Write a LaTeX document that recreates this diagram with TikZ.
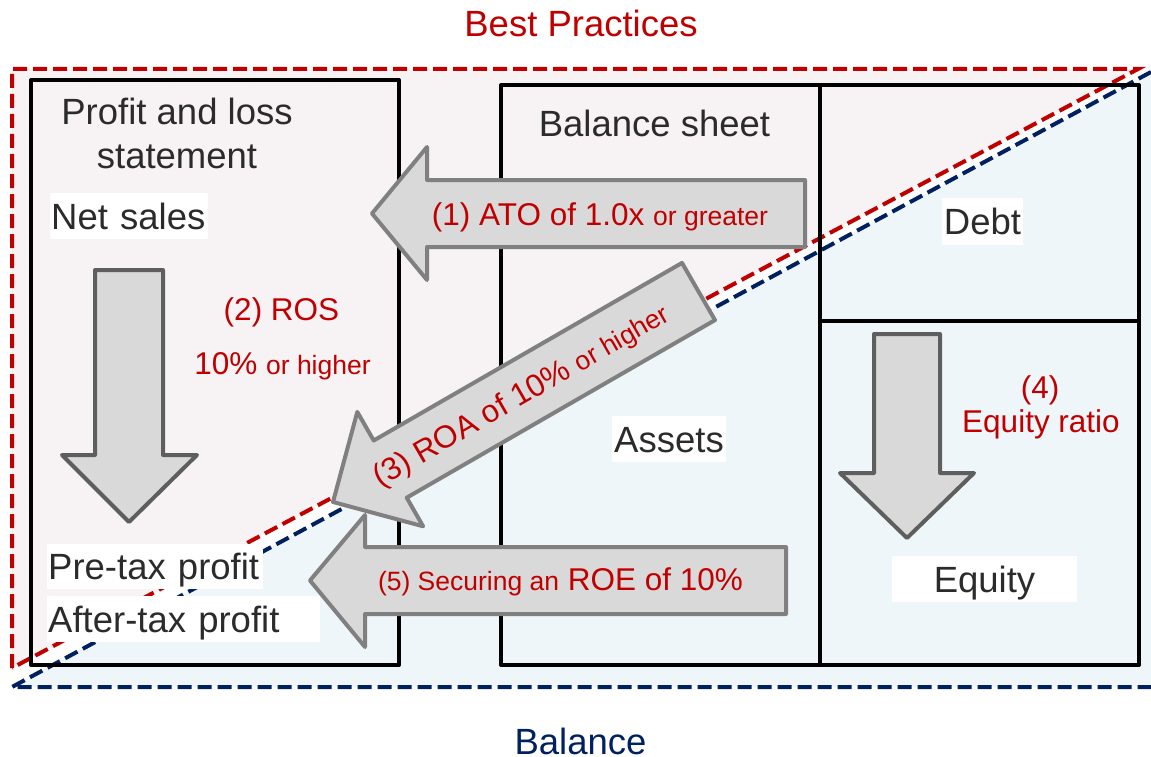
\documentclass[tikz,border=0pt]{standalone}
\usepackage{fontspec}
\setmainfont{Liberation Sans}
\definecolor{bpred}{HTML}{C00000}
\definecolor{navy}{HTML}{002060}
\definecolor{pinkbg}{HTML}{F7F3F5}
\definecolor{bluebg}{HTML}{EFF6F9}
\definecolor{txt}{HTML}{2B2B2B}
\definecolor{arrfill}{HTML}{D9D9D9}
\definecolor{arredge}{HTML}{808080}
\definecolor{arrdark}{HTML}{5E5E5E}
\newcommand{\rbig}{\fontsize{31.5}{37}\selectfont}
\newcommand{\rsmall}{\fontsize{26.5}{32}\selectfont}
\newcommand{\blk}{\fontsize{36.5}{43}\selectfont}
\begin{document}
\begin{tikzpicture}[x=1pt,y=-1pt,
  reddash/.style={draw=bpred, line width=4pt, dash pattern=on 14pt off 6pt},
  bluedash/.style={draw=navy, line width=4pt, dash pattern=on 14pt off 6pt},
  box/.style={draw=black, line width=4pt, line join=round},
  lbl/.style={fill=white, text=txt, font=\blk, text height=26pt, text depth=0pt, inner ysep=0pt},
  plain/.style={text=txt, font=\blk, anchor=base, inner sep=0pt},
  redtxt/.style={text=bpred, font=\rbig, anchor=base, inner sep=0pt},
  arrowbox/.style={fill=arrfill, draw=arredge, line width=4pt, line join=round},
  arrowdark/.style={fill=arrfill, draw=arrdark, line width=4pt, line join=round}]
\useasboundingbox (0,0) rectangle (1151,757);
% background regions
\fill[pinkbg] (12,69) -- (1138,69) -- (12,668) -- cycle;
\fill[bluebg] (12,687) -- (1151,72) -- (1151,687) -- cycle;
\draw[reddash] (12,668) -- (12,69) -- (1138,69) -- cycle;
\draw[bluedash] (1151,72) -- (12,687) -- (1151,687);
% boxes
\draw[box] (31,80) rectangle (399,665);
\draw[box] (501,85) rectangle (1139,665);
\draw[box] (820,85) -- (820,665);
\draw[box] (820,321) -- (1139,321);
% titles
\node[text=bpred, font=\blk, anchor=base, inner sep=0pt] (best) at (581,37) {Best Practices};
\node[text=navy, font=\blk, anchor=base, inner sep=0pt] (bal) at (580.5,754.5) {Balance};
\node[plain] (pl1) at (177,125) {Profit and loss};
\node[plain] (pl2) at (177,168) {statement};
\node[plain] (bs) at (654.5,137) {Balance sheet};
% labels with white background
\node[lbl, anchor=north west, text width=156pt, align=left, inner xsep=1pt, minimum height=46pt] (net) at (50,193) {Net~sales};
\node[lbl, anchor=north west, text width=214pt, align=left, inner xsep=1pt, minimum height=45pt] (pre) at (47,544) {Pre-tax~profit};
\node[lbl, anchor=north west, text width=271pt, align=left, inner xsep=1pt, minimum height=46pt] (after) at (47,596) {After-tax~profit};
\node[lbl, minimum width=81pt, minimum height=47pt, inner xsep=0pt] (debt) at (982.5,221.5) {Debt};
\node[lbl, minimum width=114pt, minimum height=46pt, inner xsep=0pt] (assets) at (669,439) {Assets};
\node[lbl, minimum width=185pt, minimum height=46pt, inner xsep=0pt] (equity) at (984.5,579) {Equity};
% block arrows
\filldraw[arrowbox] (805,180) -- (427,180) -- (427,147) -- (372,213.5) -- (427,280) -- (427,247) -- (805,247) -- cycle;
\filldraw[arrowbox] (786,547) -- (365,547) -- (365,515) -- (310,580.5) -- (365,647) -- (365,614) -- (786,614) -- cycle;
\filldraw[arrowdark] (95,270) -- (163,270) -- (163,455) -- (197,455) -- (129,522) -- (62,455) -- (95,455) -- cycle;
\filldraw[arrowdark] (874,334) -- (940,334) -- (940,473) -- (974,473) -- (907,538) -- (840,473) -- (874,473) -- cycle;
\filldraw[arrowbox] (333,502) -- (357.3,411.9) -- (373.7,440.5) -- (682,262.9) -- (715,320.1) -- (406.7,497.7) -- (423.1,526.3) -- cycle;
% red labels
\node[redtxt] (t1) at (600,225) {(1) ATO of 1.0x {\rsmall or greater}};
\node[redtxt] (t2a) at (281.5,320) {(2) ROS};
\node[redtxt] (t2b) at (282.5,374) {10\% {\rsmall or higher}};
\node[redtxt, rotate=30] (t3) at (525.7,403.7) {(3) ROA of 10\% {\rsmall or higher}};
\node[redtxt] (t4a) at (1040,398) {(4)};
\node[redtxt] (t4b) at (1041,432) {Equity ratio};
\node[redtxt] (t5) at (560.5,590) {{\rsmall (5) Securing an} ROE of 10\%};
\end{tikzpicture}
\end{document}
